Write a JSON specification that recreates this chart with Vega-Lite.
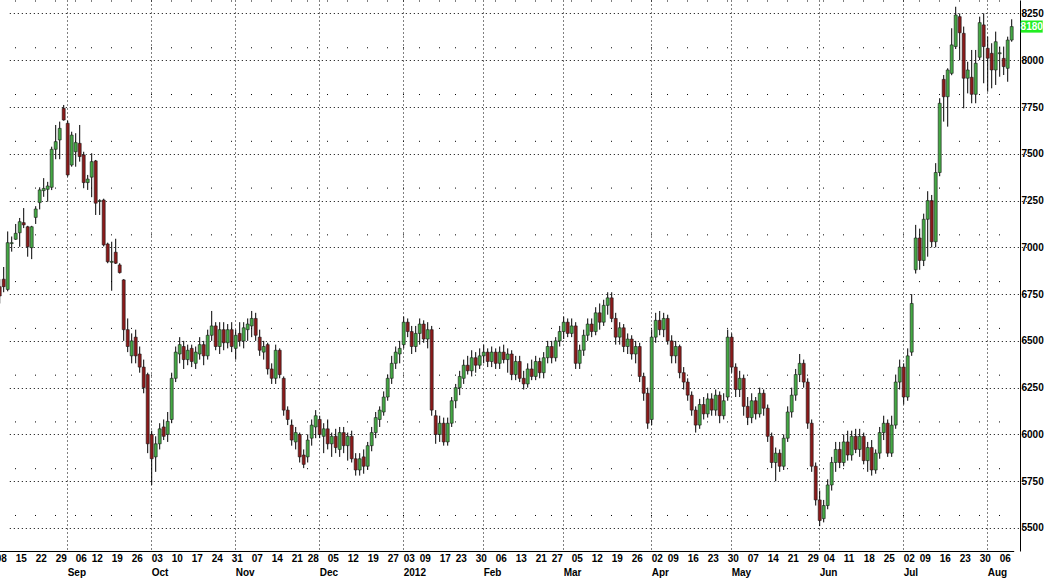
{
"$schema":"https://vega.github.io/schema/vega-lite/v6.json",
"width":1020,"height":551,"autosize":"none",
"padding":{"left":0,"top":0,"right":26,"bottom":32},
"background":"white",
"config":{"view":{"stroke":null},"font":"Liberation Sans"},
"data":{"values":[
{"d":"2011-08-08","o":6900,"h":6950,"l":6700,"c":6780},
{"d":"2011-08-09","o":6790,"h":6830,"l":6700,"c":6740},
{"d":"2011-08-10","o":6830,"h":6895,"l":6760,"c":6790},
{"d":"2011-08-11","o":6775,"h":7085,"l":6765,"c":7025},
{"d":"2011-08-12","o":7020,"h":7058,"l":6977,"c":7025},
{"d":"2011-08-15","o":7043,"h":7125,"l":7040,"c":7075},
{"d":"2011-08-16","o":7078,"h":7157,"l":7003,"c":7137},
{"d":"2011-08-17","o":7132,"h":7210,"l":7103,"c":7120},
{"d":"2011-08-18","o":7110,"h":7115,"l":6950,"c":7003},
{"d":"2011-08-19","o":6998,"h":7115,"l":6937,"c":7110},
{"d":"2011-08-22","o":7160,"h":7220,"l":7125,"c":7205},
{"d":"2011-08-23","o":7239,"h":7321,"l":7203,"c":7307},
{"d":"2011-08-24","o":7303,"h":7370,"l":7270,"c":7315},
{"d":"2011-08-25","o":7310,"h":7350,"l":7244,"c":7328},
{"d":"2011-08-26","o":7321,"h":7538,"l":7306,"c":7524},
{"d":"2011-08-29","o":7524,"h":7654,"l":7471,"c":7565},
{"d":"2011-08-30","o":7574,"h":7672,"l":7471,"c":7636},
{"d":"2011-08-31","o":7743,"h":7761,"l":7677,"c":7681},
{"d":"2011-09-01","o":7663,"h":7677,"l":7378,"c":7387},
{"d":"2011-09-02","o":7440,"h":7618,"l":7431,"c":7600},
{"d":"2011-09-06","o":7511,"h":7610,"l":7431,"c":7560},
{"d":"2011-09-07","o":7556,"h":7654,"l":7458,"c":7485},
{"d":"2011-09-08","o":7494,"h":7511,"l":7316,"c":7346},
{"d":"2011-09-09","o":7346,"h":7387,"l":7307,"c":7365},
{"d":"2011-09-12","o":7375,"h":7503,"l":7268,"c":7458},
{"d":"2011-09-13","o":7462,"h":7467,"l":7173,"c":7236},
{"d":"2011-09-14","o":7245,"h":7257,"l":7173,"c":7250},
{"d":"2011-09-15","o":7253,"h":7260,"l":7005,"c":7013},
{"d":"2011-09-16","o":7018,"h":7025,"l":6915,"c":6923},
{"d":"2011-09-19","o":6920,"h":7030,"l":6768,"c":6925},
{"d":"2011-09-20","o":6974,"h":7046,"l":6911,"c":6915},
{"d":"2011-09-21","o":6906,"h":6915,"l":6860,"c":6865},
{"d":"2011-09-22","o":6826,"h":6830,"l":6500,"c":6560},
{"d":"2011-09-23","o":6560,"h":6620,"l":6440,"c":6470},
{"d":"2011-09-26","o":6420,"h":6540,"l":6380,"c":6500},
{"d":"2011-09-27","o":6520,"h":6560,"l":6380,"c":6420},
{"d":"2011-09-28","o":6430,"h":6470,"l":6330,"c":6360},
{"d":"2011-09-29","o":6360,"h":6400,"l":6220,"c":6250},
{"d":"2011-09-30","o":6320,"h":6330,"l":5900,"c":5950},
{"d":"2011-10-03","o":6000,"h":6020,"l":5730,"c":5870},
{"d":"2011-10-04","o":5880,"h":5990,"l":5800,"c":5950},
{"d":"2011-10-05","o":5950,"h":6060,"l":5920,"c":6030},
{"d":"2011-10-06","o":6040,"h":6080,"l":5970,"c":5990},
{"d":"2011-10-07","o":6000,"h":6120,"l":5960,"c":6070},
{"d":"2011-10-10","o":6080,"h":6330,"l":6060,"c":6300},
{"d":"2011-10-11","o":6300,"h":6470,"l":6280,"c":6440},
{"d":"2011-10-12","o":6430,"h":6520,"l":6380,"c":6480},
{"d":"2011-10-13","o":6470,"h":6500,"l":6350,"c":6400},
{"d":"2011-10-14","o":6400,"h":6480,"l":6370,"c":6450},
{"d":"2011-10-17","o":6460,"h":6480,"l":6360,"c":6390},
{"d":"2011-10-18","o":6380,"h":6470,"l":6350,"c":6440},
{"d":"2011-10-19","o":6430,"h":6520,"l":6400,"c":6480},
{"d":"2011-10-20","o":6480,"h":6500,"l":6370,"c":6420},
{"d":"2011-10-21","o":6420,"h":6560,"l":6400,"c":6530},
{"d":"2011-10-24","o":6530,"h":6660,"l":6500,"c":6580},
{"d":"2011-10-25","o":6580,"h":6600,"l":6450,"c":6470},
{"d":"2011-10-26","o":6470,"h":6600,"l":6430,"c":6560},
{"d":"2011-10-27","o":6560,"h":6600,"l":6450,"c":6490},
{"d":"2011-10-28","o":6490,"h":6590,"l":6460,"c":6560},
{"d":"2011-10-31","o":6560,"h":6600,"l":6440,"c":6470},
{"d":"2011-11-01","o":6460,"h":6560,"l":6400,"c":6530},
{"d":"2011-11-02","o":6540,"h":6600,"l":6470,"c":6500},
{"d":"2011-11-03","o":6500,"h":6600,"l":6460,"c":6570},
{"d":"2011-11-04","o":6560,"h":6620,"l":6500,"c":6590},
{"d":"2011-11-07","o":6580,"h":6660,"l":6520,"c":6620},
{"d":"2011-11-08","o":6620,"h":6650,"l":6500,"c":6530},
{"d":"2011-11-09","o":6520,"h":6560,"l":6420,"c":6450},
{"d":"2011-11-10","o":6440,"h":6500,"l":6400,"c":6470},
{"d":"2011-11-11","o":6480,"h":6490,"l":6320,"c":6350},
{"d":"2011-11-14","o":6350,"h":6380,"l":6270,"c":6300},
{"d":"2011-11-15","o":6300,"h":6480,"l":6270,"c":6450},
{"d":"2011-11-16","o":6450,"h":6460,"l":6300,"c":6320},
{"d":"2011-11-17","o":6300,"h":6310,"l":6100,"c":6130},
{"d":"2011-11-18","o":6130,"h":6150,"l":6050,"c":6080},
{"d":"2011-11-21","o":6050,"h":6080,"l":5940,"c":5970},
{"d":"2011-11-22","o":5960,"h":6040,"l":5920,"c":6010},
{"d":"2011-11-23","o":6000,"h":6010,"l":5850,"c":5880},
{"d":"2011-11-25","o":5890,"h":5920,"l":5820,"c":5840},
{"d":"2011-11-28","o":5880,"h":6000,"l":5850,"c":5970},
{"d":"2011-11-29","o":5980,"h":6080,"l":5940,"c":6050},
{"d":"2011-11-30","o":6040,"h":6130,"l":5980,"c":6100},
{"d":"2011-12-01","o":6080,"h":6100,"l":5980,"c":6000},
{"d":"2011-12-02","o":5990,"h":6060,"l":5900,"c":6030},
{"d":"2011-12-05","o":6030,"h":6080,"l":5920,"c":5950},
{"d":"2011-12-06","o":5950,"h":6010,"l":5880,"c":5990},
{"d":"2011-12-07","o":5990,"h":6030,"l":5900,"c":5930},
{"d":"2011-12-08","o":5920,"h":6040,"l":5880,"c":6010},
{"d":"2011-12-09","o":6010,"h":6040,"l":5900,"c":5940},
{"d":"2011-12-12","o":5940,"h":6010,"l":5860,"c":5990},
{"d":"2011-12-13","o":5990,"h":6020,"l":5850,"c":5870},
{"d":"2011-12-14","o":5870,"h":5900,"l":5780,"c":5810},
{"d":"2011-12-15","o":5810,"h":5900,"l":5780,"c":5870},
{"d":"2011-12-16","o":5880,"h":5920,"l":5790,"c":5830},
{"d":"2011-12-19","o":5830,"h":5960,"l":5810,"c":5940},
{"d":"2011-12-20","o":5940,"h":6040,"l":5910,"c":6010},
{"d":"2011-12-21","o":6010,"h":6120,"l":5980,"c":6090},
{"d":"2011-12-22","o":6080,"h":6150,"l":6040,"c":6130},
{"d":"2011-12-23","o":6120,"h":6230,"l":6100,"c":6200},
{"d":"2011-12-27","o":6200,"h":6320,"l":6180,"c":6300},
{"d":"2011-12-28","o":6300,"h":6420,"l":6270,"c":6380},
{"d":"2011-12-29","o":6380,"h":6470,"l":6350,"c":6440},
{"d":"2011-12-30","o":6430,"h":6500,"l":6380,"c":6460},
{"d":"2012-01-03","o":6480,"h":6630,"l":6460,"c":6600},
{"d":"2012-01-04","o":6600,"h":6620,"l":6520,"c":6550},
{"d":"2012-01-05","o":6550,"h":6580,"l":6430,"c":6470},
{"d":"2012-01-06","o":6470,"h":6580,"l":6440,"c":6540},
{"d":"2012-01-09","o":6540,"h":6620,"l":6480,"c":6590},
{"d":"2012-01-10","o":6590,"h":6610,"l":6490,"c":6510},
{"d":"2012-01-11","o":6510,"h":6600,"l":6460,"c":6560},
{"d":"2012-01-12","o":6560,"h":6580,"l":6100,"c":6130},
{"d":"2012-01-13","o":6100,"h":6130,"l":5950,"c":6000},
{"d":"2012-01-17","o":6000,"h":6100,"l":5960,"c":6060},
{"d":"2012-01-18","o":6060,"h":6090,"l":5940,"c":5960},
{"d":"2012-01-19","o":5960,"h":6090,"l":5940,"c":6060},
{"d":"2012-01-20","o":6060,"h":6200,"l":6040,"c":6180},
{"d":"2012-01-23","o":6180,"h":6270,"l":6140,"c":6250},
{"d":"2012-01-24","o":6250,"h":6340,"l":6210,"c":6310},
{"d":"2012-01-25","o":6300,"h":6400,"l":6270,"c":6370},
{"d":"2012-01-26","o":6370,"h":6420,"l":6320,"c":6340},
{"d":"2012-01-27","o":6340,"h":6450,"l":6310,"c":6410},
{"d":"2012-01-30","o":6410,"h":6440,"l":6330,"c":6370},
{"d":"2012-01-31","o":6370,"h":6460,"l":6350,"c":6420},
{"d":"2012-02-01","o":6420,"h":6480,"l":6380,"c":6440},
{"d":"2012-02-02","o":6440,"h":6460,"l":6360,"c":6390},
{"d":"2012-02-03","o":6390,"h":6470,"l":6360,"c":6440},
{"d":"2012-02-06","o":6440,"h":6460,"l":6350,"c":6380},
{"d":"2012-02-07","o":6380,"h":6470,"l":6350,"c":6440},
{"d":"2012-02-08","o":6440,"h":6480,"l":6380,"c":6400},
{"d":"2012-02-09","o":6400,"h":6460,"l":6330,"c":6430},
{"d":"2012-02-10","o":6430,"h":6450,"l":6290,"c":6320},
{"d":"2012-02-13","o":6320,"h":6420,"l":6290,"c":6390},
{"d":"2012-02-14","o":6390,"h":6420,"l":6280,"c":6300},
{"d":"2012-02-15","o":6300,"h":6340,"l":6240,"c":6270},
{"d":"2012-02-16","o":6270,"h":6380,"l":6250,"c":6350},
{"d":"2012-02-17","o":6350,"h":6400,"l":6290,"c":6310},
{"d":"2012-02-21","o":6310,"h":6420,"l":6290,"c":6390},
{"d":"2012-02-22","o":6390,"h":6410,"l":6300,"c":6330},
{"d":"2012-02-23","o":6330,"h":6440,"l":6300,"c":6410},
{"d":"2012-02-24","o":6410,"h":6500,"l":6380,"c":6470},
{"d":"2012-02-27","o":6470,"h":6500,"l":6380,"c":6410},
{"d":"2012-02-28","o":6410,"h":6520,"l":6390,"c":6500},
{"d":"2012-02-29","o":6500,"h":6580,"l":6470,"c":6550},
{"d":"2012-03-01","o":6550,"h":6630,"l":6510,"c":6600},
{"d":"2012-03-02","o":6600,"h":6620,"l":6520,"c":6540},
{"d":"2012-03-05","o":6540,"h":6620,"l":6520,"c":6580},
{"d":"2012-03-06","o":6580,"h":6600,"l":6350,"c":6380},
{"d":"2012-03-07","o":6380,"h":6480,"l":6350,"c":6450},
{"d":"2012-03-08","o":6450,"h":6560,"l":6420,"c":6530},
{"d":"2012-03-09","o":6530,"h":6620,"l":6500,"c":6590},
{"d":"2012-03-12","o":6590,"h":6620,"l":6520,"c":6550},
{"d":"2012-03-13","o":6550,"h":6680,"l":6530,"c":6650},
{"d":"2012-03-14","o":6650,"h":6700,"l":6560,"c":6600},
{"d":"2012-03-15","o":6600,"h":6720,"l":6580,"c":6690},
{"d":"2012-03-16","o":6690,"h":6760,"l":6640,"c":6730},
{"d":"2012-03-19","o":6730,"h":6760,"l":6600,"c":6620},
{"d":"2012-03-20","o":6620,"h":6650,"l":6480,"c":6520},
{"d":"2012-03-21","o":6520,"h":6600,"l":6480,"c":6570},
{"d":"2012-03-22","o":6570,"h":6590,"l":6440,"c":6470},
{"d":"2012-03-23","o":6470,"h":6540,"l":6430,"c":6510},
{"d":"2012-03-26","o":6510,"h":6530,"l":6400,"c":6430},
{"d":"2012-03-27","o":6430,"h":6500,"l":6380,"c":6470},
{"d":"2012-03-28","o":6470,"h":6490,"l":6280,"c":6310},
{"d":"2012-03-29","o":6310,"h":6330,"l":6180,"c":6220},
{"d":"2012-03-30","o":6220,"h":6250,"l":6030,"c":6060},
{"d":"2012-04-02","o":6080,"h":6560,"l":6050,"c":6520},
{"d":"2012-04-03","o":6520,"h":6650,"l":6490,"c":6610},
{"d":"2012-04-04","o":6610,"h":6660,"l":6530,"c":6560},
{"d":"2012-04-05","o":6560,"h":6650,"l":6520,"c":6620},
{"d":"2012-04-09","o":6620,"h":6640,"l":6480,"c":6500},
{"d":"2012-04-10","o":6500,"h":6530,"l":6380,"c":6420},
{"d":"2012-04-11","o":6420,"h":6500,"l":6380,"c":6470},
{"d":"2012-04-12","o":6470,"h":6480,"l":6300,"c":6330},
{"d":"2012-04-13","o":6330,"h":6360,"l":6240,"c":6280},
{"d":"2012-04-16","o":6280,"h":6300,"l":6180,"c":6210},
{"d":"2012-04-17","o":6210,"h":6230,"l":6100,"c":6130},
{"d":"2012-04-18","o":6130,"h":6150,"l":6010,"c":6050},
{"d":"2012-04-19","o":6050,"h":6190,"l":6030,"c":6160},
{"d":"2012-04-20","o":6160,"h":6200,"l":6080,"c":6110},
{"d":"2012-04-23","o":6110,"h":6220,"l":6090,"c":6190},
{"d":"2012-04-24","o":6190,"h":6220,"l":6100,"c":6130},
{"d":"2012-04-25","o":6130,"h":6240,"l":6100,"c":6210},
{"d":"2012-04-26","o":6210,"h":6230,"l":6060,"c":6100},
{"d":"2012-04-27","o":6100,"h":6220,"l":6080,"c":6180},
{"d":"2012-04-30","o":6200,"h":6560,"l":6180,"c":6520},
{"d":"2012-05-01","o":6520,"h":6540,"l":6330,"c":6360},
{"d":"2012-05-02","o":6360,"h":6380,"l":6200,"c":6240},
{"d":"2012-05-03","o":6240,"h":6340,"l":6200,"c":6300},
{"d":"2012-05-04","o":6300,"h":6320,"l":6100,"c":6150},
{"d":"2012-05-07","o":6150,"h":6200,"l":6050,"c":6090},
{"d":"2012-05-08","o":6090,"h":6220,"l":6060,"c":6180},
{"d":"2012-05-09","o":6180,"h":6200,"l":6080,"c":6110},
{"d":"2012-05-10","o":6110,"h":6250,"l":6090,"c":6220},
{"d":"2012-05-11","o":6220,"h":6240,"l":6100,"c":6140},
{"d":"2012-05-14","o":6140,"h":6160,"l":5960,"c":5990},
{"d":"2012-05-15","o":5990,"h":6010,"l":5820,"c":5850},
{"d":"2012-05-16","o":5850,"h":5930,"l":5750,"c":5900},
{"d":"2012-05-17","o":5900,"h":5920,"l":5800,"c":5830},
{"d":"2012-05-18","o":5830,"h":6000,"l":5810,"c":5980},
{"d":"2012-05-21","o":5980,"h":6150,"l":5960,"c":6120},
{"d":"2012-05-22","o":6120,"h":6250,"l":6090,"c":6210},
{"d":"2012-05-23","o":6210,"h":6350,"l":6180,"c":6320},
{"d":"2012-05-24","o":6320,"h":6430,"l":6280,"c":6380},
{"d":"2012-05-25","o":6380,"h":6400,"l":6250,"c":6280},
{"d":"2012-05-29","o":6280,"h":6300,"l":6030,"c":6060},
{"d":"2012-05-30","o":6060,"h":6080,"l":5800,"c":5830},
{"d":"2012-05-31","o":5830,"h":5850,"l":5620,"c":5650},
{"d":"2012-06-01","o":5650,"h":5700,"l":5510,"c":5540},
{"d":"2012-06-04","o":5550,"h":5650,"l":5530,"c":5620},
{"d":"2012-06-05","o":5620,"h":5760,"l":5600,"c":5730},
{"d":"2012-06-06","o":5730,"h":5880,"l":5700,"c":5850},
{"d":"2012-06-07","o":5850,"h":5960,"l":5800,"c":5920},
{"d":"2012-06-08","o":5920,"h":5960,"l":5820,"c":5850},
{"d":"2012-06-11","o":5850,"h":6000,"l":5830,"c":5960},
{"d":"2012-06-12","o":5960,"h":6020,"l":5860,"c":5890},
{"d":"2012-06-13","o":5890,"h":6020,"l":5860,"c":5990},
{"d":"2012-06-14","o":5990,"h":6030,"l":5900,"c":5920},
{"d":"2012-06-15","o":5920,"h":6030,"l":5880,"c":5990},
{"d":"2012-06-18","o":5990,"h":6010,"l":5840,"c":5860},
{"d":"2012-06-19","o":5860,"h":5960,"l":5800,"c":5930},
{"d":"2012-06-20","o":5930,"h":5970,"l":5780,"c":5810},
{"d":"2012-06-21","o":5810,"h":5920,"l":5790,"c":5900},
{"d":"2012-06-22","o":5900,"h":6040,"l":5870,"c":6010},
{"d":"2012-06-25","o":6010,"h":6100,"l":5970,"c":6060},
{"d":"2012-06-26","o":6060,"h":6080,"l":5880,"c":5900},
{"d":"2012-06-27","o":5900,"h":6100,"l":5880,"c":6050},
{"d":"2012-06-28","o":6050,"h":6320,"l":6030,"c":6280},
{"d":"2012-06-29","o":6280,"h":6400,"l":6240,"c":6360},
{"d":"2012-07-02","o":6360,"h":6380,"l":6160,"c":6200},
{"d":"2012-07-03","o":6200,"h":6460,"l":6180,"c":6420},
{"d":"2012-07-05","o":6440,"h":6750,"l":6420,"c":6700},
{"d":"2012-07-06","o":6880,"h":7120,"l":6860,"c":7050},
{"d":"2012-07-09","o":7050,"h":7100,"l":6880,"c":6930},
{"d":"2012-07-10","o":6930,"h":7180,"l":6900,"c":7150},
{"d":"2012-07-11","o":7150,"h":7300,"l":6950,"c":7250},
{"d":"2012-07-12","o":7250,"h":7280,"l":7000,"c":7030},
{"d":"2012-07-13","o":7030,"h":7450,"l":7000,"c":7400},
{"d":"2012-07-16","o":7400,"h":7797,"l":7380,"c":7770},
{"d":"2012-07-17","o":7898,"h":7921,"l":7672,"c":7805},
{"d":"2012-07-18","o":7805,"h":7957,"l":7645,"c":7948},
{"d":"2012-07-19","o":7930,"h":8171,"l":7920,"c":8082},
{"d":"2012-07-20","o":8073,"h":8286,"l":8060,"c":8242},
{"d":"2012-07-23","o":8233,"h":8250,"l":8000,"c":8147},
{"d":"2012-07-24","o":8144,"h":8180,"l":7743,"c":7904},
{"d":"2012-07-25","o":7904,"h":7992,"l":7823,"c":7948},
{"d":"2012-07-26","o":7909,"h":8055,"l":7770,"c":7818},
{"d":"2012-07-27","o":7818,"h":8055,"l":7770,"c":7984},
{"d":"2012-07-30","o":8016,"h":8233,"l":8001,"c":8201},
{"d":"2012-07-31","o":8189,"h":8251,"l":7877,"c":8073},
{"d":"2012-08-01","o":8064,"h":8126,"l":7832,"c":8011},
{"d":"2012-08-02","o":8037,"h":8091,"l":7850,"c":7948},
{"d":"2012-08-03","o":7948,"h":8153,"l":7868,"c":8099},
{"d":"2012-08-06","o":8035,"h":8073,"l":7912,"c":8040},
{"d":"2012-08-07","o":8010,"h":8073,"l":7921,"c":7966},
{"d":"2012-08-08","o":7957,"h":8126,"l":7885,"c":8108},
{"d":"2012-08-09","o":8108,"h":8219,"l":8099,"c":8180}
]},
"resolve":{"axis":{"x":"independent","y":"independent"}},
"layer":[
{"mark":{"type":"rule","color":"#000000","strokeWidth":1,"clip":true},
 "encoding":{
  "x":{"field":"d","type":"ordinal","sort":"ascending","scale":{"range":[-6.3,1013.7],"paddingInner":0,"paddingOuter":0},
   "axis":{"title":null,"orient":"bottom","values":["2011-08-08","2011-08-15","2011-08-22","2011-08-29","2011-09-06","2011-09-12","2011-09-19","2011-09-26","2011-10-03","2011-10-10","2011-10-17","2011-10-24","2011-10-31","2011-11-07","2011-11-14","2011-11-21","2011-11-28","2011-12-05","2011-12-12","2011-12-19","2011-12-27","2012-01-03","2012-01-09","2012-01-17","2012-01-23","2012-01-30","2012-02-06","2012-02-13","2012-02-21","2012-02-27","2012-03-05","2012-03-12","2012-03-19","2012-03-26","2012-04-02","2012-04-09","2012-04-16","2012-04-23","2012-04-30","2012-05-07","2012-05-14","2012-05-21","2012-05-29","2012-06-04","2012-06-11","2012-06-18","2012-06-25","2012-07-02","2012-07-09","2012-07-16","2012-07-23","2012-07-30","2012-08-06"],
    "labelExpr":"utcFormat(toDate(datum.value), '%d')","labelAngle":0,"labelAlign":"left","labelBaseline":"top","labelPadding":2,"labelFontSize":10,"labelFontWeight":"bold","labelColor":"#000000","labelOverlap":false,"labelFlush":false,"labelBound":false,
    "ticks":false,"tickSize":0,"domain":true,"domainColor":"#000000","domainWidth":1,
    "grid":true,"gridColor":"#000000","gridDash":[1,45.77],"gridWidth":1,"gridOpacity":1}},
  "y":{"field":"l","type":"quantitative","scale":{"domain":[5377,8322],"nice":false,"zero":false},
   "axis":{"title":null,"orient":"right","format":"d","values":[5500,5750,6000,6250,6500,6750,7000,7250,7500,7750,8000,8250],"labelFontSize":10,"labelFontWeight":"bold","labelColor":"#000000","labelPadding":1,"labelAlign":"left","ticks":false,"tickSize":0,"domain":true,"domainColor":"#000000","domainWidth":1,"grid":true,"gridColor":"#000000","gridDash":[1,3],"gridWidth":1,"gridOpacity":1}},
  "y2":{"field":"h"}}},
{"mark":{"type":"bar","size":3,"stroke":"#1a1a1a","strokeWidth":0.6,"clip":true},
 "encoding":{
  "x":{"field":"d","type":"ordinal","sort":"ascending",
   "axis":{"title":null,"orient":"bottom","values":["2011-09-01","2011-10-03","2011-11-01","2011-12-01","2012-01-03","2012-02-01","2012-03-01","2012-04-02","2012-05-01","2012-06-01","2012-07-02","2012-08-01"],
    "labelExpr":"utcmonth(toDate(datum.value))==0 ? '2012' : utcFormat(toDate(datum.value), '%b')","labelAngle":0,"labelAlign":"left","labelBaseline":"top","labelPadding":16,"labelFontSize":10,"labelFontWeight":"bold","labelColor":"#000000","labelOverlap":false,"labelFlush":false,"labelBound":false,
    "ticks":false,"tickSize":0,"domain":false,
    "grid":true,"gridColor":"#000000","gridDash":[1,3],"gridWidth":1,"gridOpacity":1}},
  "y":{"field":"o","type":"quantitative","axis":null},
  "y2":{"field":"c"},
  "fill":{"condition":{"test":"datum.c >= datum.o","value":"#44a844"},"value":"#8c1a1a"}}},
{"transform":[{"filter":"datum.d == '2012-08-09'"}],
 "mark":{"type":"point","shape":"M-1,-0.55H1V0.55H-1Z","size":484,"filled":true,"opacity":1,"color":"#22ee22","xOffset":20,"clip":false},
 "encoding":{"x":{"field":"d","type":"ordinal","axis":null},"y":{"field":"c","type":"quantitative","axis":null}}},
{"transform":[{"filter":"datum.d == '2012-08-09'"}],
 "mark":{"type":"text","dx":20,"align":"center","baseline":"middle","fontSize":10,"fontWeight":"bold","color":"#ffffff","clip":false},
 "encoding":{"x":{"field":"d","type":"ordinal","axis":null},"y":{"field":"c","type":"quantitative","axis":null},"text":{"field":"c","type":"quantitative","format":"d"}}}
]
}
